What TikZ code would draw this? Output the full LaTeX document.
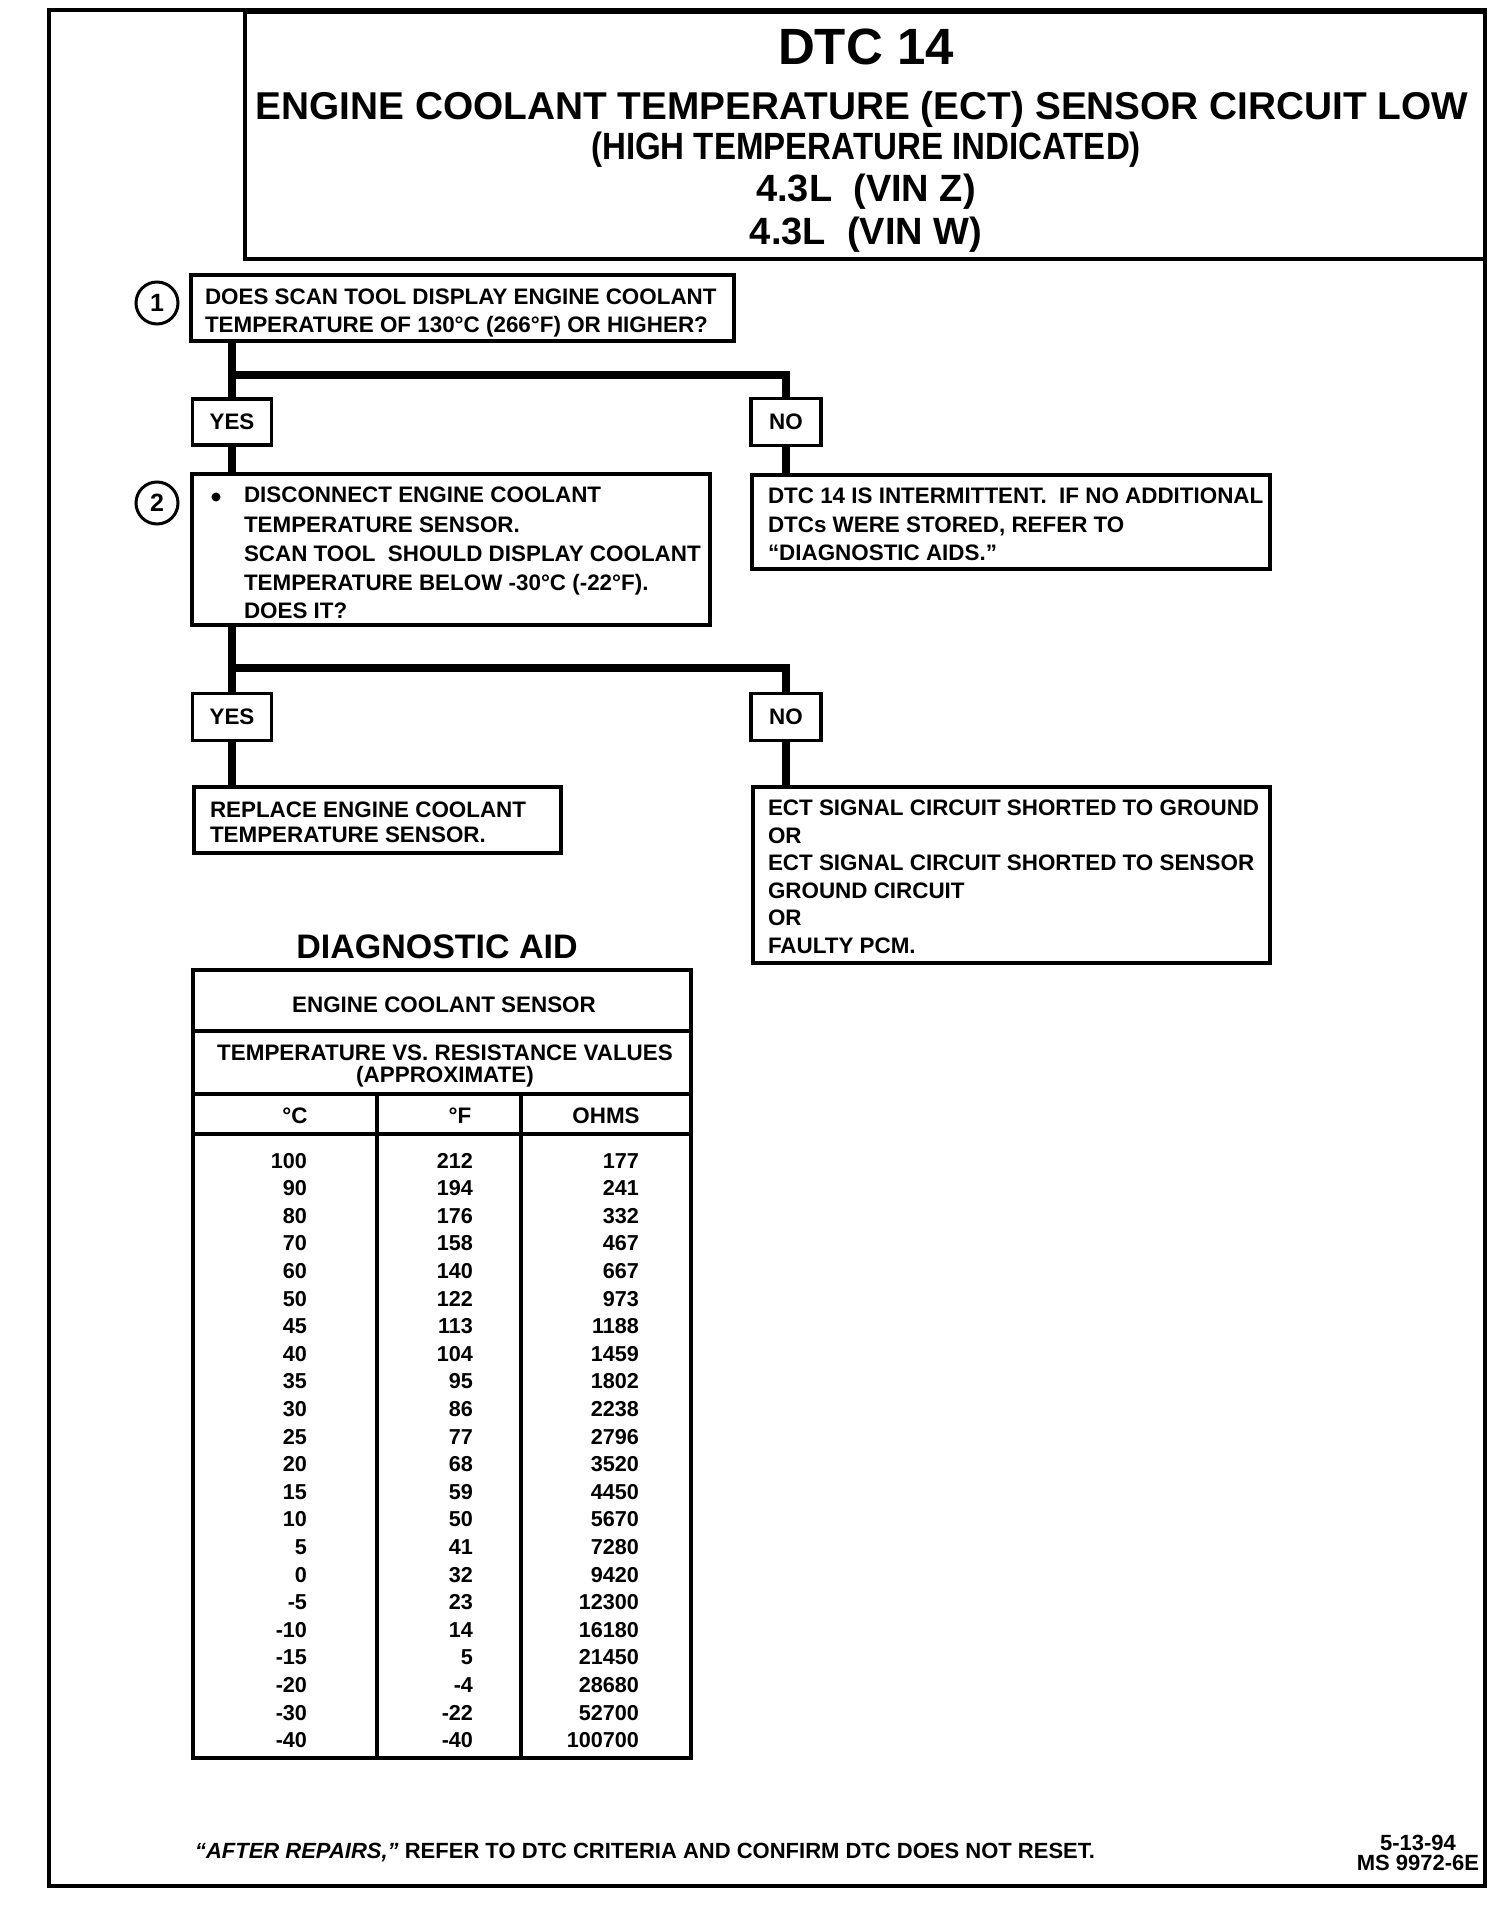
\documentclass[tikz,border=0pt]{standalone}
\usepackage{fontspec}
\setmainfont{Liberation Sans}
\usepackage{graphicx}
\newcommand\bxf{\fontsize{11.2}{13}\selectfont\bfseries}
\newcommand\mybox[5]{\node[boxst, anchor=north west, minimum width=#4*0.5pt, minimum height=#5*0.5pt] (#1) at (#2,#3) {};}
\tikzset{
  every node/.style={inner sep=0pt, outer sep=0pt},
  headst/.style={draw, line width=2pt, rectangle},
  boxst/.style={draw, line width=1.6pt, rectangle},
  ynst/.style={draw, line width=1.6pt, rectangle, font=\bxf},
  conn/.style={line width=4pt, line cap=butt, line join=miter},
  tline/.style={line width=1.6pt},
  tl/.style={anchor=base west, font=\bxf},
  tc/.style={anchor=base, font=\bxf},
  dat/.style={anchor=base east, font=\fontsize{10.8}{12}\selectfont\bfseries},
  numc/.style={circle, draw, line width=1.5pt, minimum size=42*0.5pt, font=\fontsize{12.5}{13}\selectfont\bfseries},
  bulst/.style={circle, fill, minimum size=9*0.5pt}
}
\begin{document}
\begin{tikzpicture}[x=0.5pt,y=-0.5pt]
\useasboundingbox (0,0) rectangle (1504,1914);
\fill[white] (0,0) rectangle (1504,1914);

% outer frame and header
\mybox{frame}{49}{10}{1436}{1876}
\node[headst, anchor=north west, minimum width=1240*0.5pt, minimum height=247*0.5pt] (head) at (245,12) {};
\node[anchor=base, font=\fontsize{25.5}{26}\selectfont\bfseries] (h1) at (866,65) {DTC 14};
\node[anchor=base, font=\fontsize{19.4}{20}\selectfont\bfseries] (h2) at (862,120) {ENGINE COOLANT TEMPERATURE (ECT) SENSOR CIRCUIT LOW};
\node[anchor=base, font=\fontsize{19}{20}\selectfont\bfseries] (h3) at (866,160) {\scalebox{0.87}[1]{(HIGH TEMPERATURE INDICATED)}};
\node[anchor=base, font=\fontsize{19}{20}\selectfont\bfseries] (h4) at (866,202) {4.3L\ \ (VIN Z)};
\node[anchor=base, font=\fontsize{19}{20}\selectfont\bfseries] (h5) at (866,245) {4.3L\ \ (VIN W)};

% step circles
\node[numc] (c1) at (157,303) {1};
\node[numc] (c2) at (157,503) {2};

% boxes
\mybox{b1}{191}{275}{543}{66}
\mybox{b2}{192}{474}{518}{151}
\mybox{b3}{752}{475}{518}{94}
\mybox{b4}{194}{787}{367}{66}
\mybox{b5}{753}{787}{517}{176}

% yes / no
\node[ynst, minimum width=79*0.5pt, minimum height=46*0.5pt] (yes1) at (232,422) {YES};
\node[ynst, minimum width=70*0.5pt, minimum height=47*0.5pt] (no1) at (786,422) {NO};
\node[ynst, minimum width=79*0.5pt, minimum height=47*0.5pt] (yes2) at (232,717) {YES};
\node[ynst, minimum width=70*0.5pt, minimum height=47*0.5pt] (no2) at (786,717) {NO};

% connectors
\coordinate (j1) at (232,375);
\coordinate (j2) at (232,668);
\draw[conn] (b1.south -| yes1.north) -- (yes1.north);
\draw[conn] (j1) -| (no1.north);
\draw[conn] (yes1.south) -- (b2.north -| yes1.south);
\draw[conn] (no1.south) -- (b3.north -| no1.south);
\draw[conn] (b2.south -| yes2.north) -- (yes2.north);
\draw[conn] (j2) -| (no2.north);
\draw[conn] (yes2.south) -- (b4.north -| yes2.south);
\draw[conn] (no2.south) -- (b5.north -| no2.south);

% box texts
\node[tl] (t11) at (205,305) {DOES SCAN TOOL DISPLAY ENGINE COOLANT};
\node[tl] (t12) at (205,333) {TEMPERATURE OF 130°C (266°F) OR HIGHER?};

\node[bulst] (bul) at (216,497) {};
\node[tl] (t21) at (244,503) {DISCONNECT ENGINE COOLANT};
\node[tl] (t22) at (244,532) {TEMPERATURE SENSOR.};
\node[tl] (t23) at (244,561) {SCAN TOOL\ \ SHOULD DISPLAY COOLANT};
\node[tl] (t24) at (244,590) {TEMPERATURE BELOW -30°C (-22°F).};
\node[tl] (t25) at (244,618) {DOES IT?};

\node[tl] (t31) at (768,504) {DTC 14 IS INTERMITTENT.\ \ IF NO ADDITIONAL};
\node[tl] (t32) at (768,532) {DTCs WERE STORED, REFER TO};
\node[tl] (t33) at (768,560) {“DIAGNOSTIC AIDS.”};

\node[tl] (t41) at (210,817) {REPLACE ENGINE COOLANT};
\node[tl] (t42) at (210,842) {TEMPERATURE SENSOR.};

\node[tl] (t51) at (768,815) {ECT SIGNAL CIRCUIT SHORTED TO GROUND};
\node[tl] (t52) at (768,843) {OR};
\node[tl] (t53) at (768,870) {ECT SIGNAL CIRCUIT SHORTED TO SENSOR};
\node[tl] (t54) at (768,898) {GROUND CIRCUIT};
\node[tl] (t55) at (768,925) {OR};
\node[tl] (t56) at (768,953) {FAULTY PCM.};

% diagnostic aid table
\node[anchor=base, font=\fontsize{17}{18}\selectfont\bfseries] (da) at (437,958) {DIAGNOSTIC AID};
\mybox{tbl}{193}{970}{498}{788}
\draw[tline] (193,1031) -- (691,1031);
\draw[tline] (193,1094) -- (691,1094);
\draw[tline] (193,1134) -- (691,1134);
\draw[tline] (377,1094) -- (377,1758);
\draw[tline] (521,1094) -- (521,1758);
\node[tc] (th1) at (444,1012) {ENGINE COOLANT SENSOR};
\node[tc] (th2) at (445,1060) {TEMPERATURE VS. RESISTANCE VALUES};
\node[tc] (th3) at (445,1082) {(APPROXIMATE)};
\node[tc] (hc) at (295,1123) {°C};
\node[tc] (hf) at (460,1123) {°F};
\node[tc] (ho) at (606,1123) {OHMS};
\foreach \c/\f/\o [count=\i from 0] in {100/212/177,90/194/241,80/176/332,70/158/467,60/140/667,50/122/973,45/113/1188,40/104/1459,35/95/1802,30/86/2238,25/77/2796,20/68/3520,15/59/4450,10/50/5670,5/41/7280,0/32/9420,-5/23/12300,-10/14/16180,-15/5/21450,-20/-4/28680,-30/-22/52700,-40/-40/100700}{
  \pgfmathsetmacro\yy{1168+\i*27.6}
  \node[dat] (dc\i) at (307,\yy) {\c};
  \node[dat] (df\i) at (473,\yy) {\f};
  \node[dat] (do\i) at (639,\yy) {\o};
}

% footer
\node[anchor=base west, font=\fontsize{11}{12}\selectfont\bfseries] (foot) at (195,1858) {{\itshape “AFTER REPAIRS,”} REFER TO DTC CRITERIA AND CONFIRM DTC DOES NOT RESET.};
\node[anchor=base, font=\fontsize{11}{12}\selectfont\bfseries] (d1) at (1418,1850) {5-13-94};
\node[anchor=base, font=\fontsize{11}{12}\selectfont\bfseries] (d2) at (1418,1870) {MS 9972-6E};
\end{tikzpicture}
\end{document}
